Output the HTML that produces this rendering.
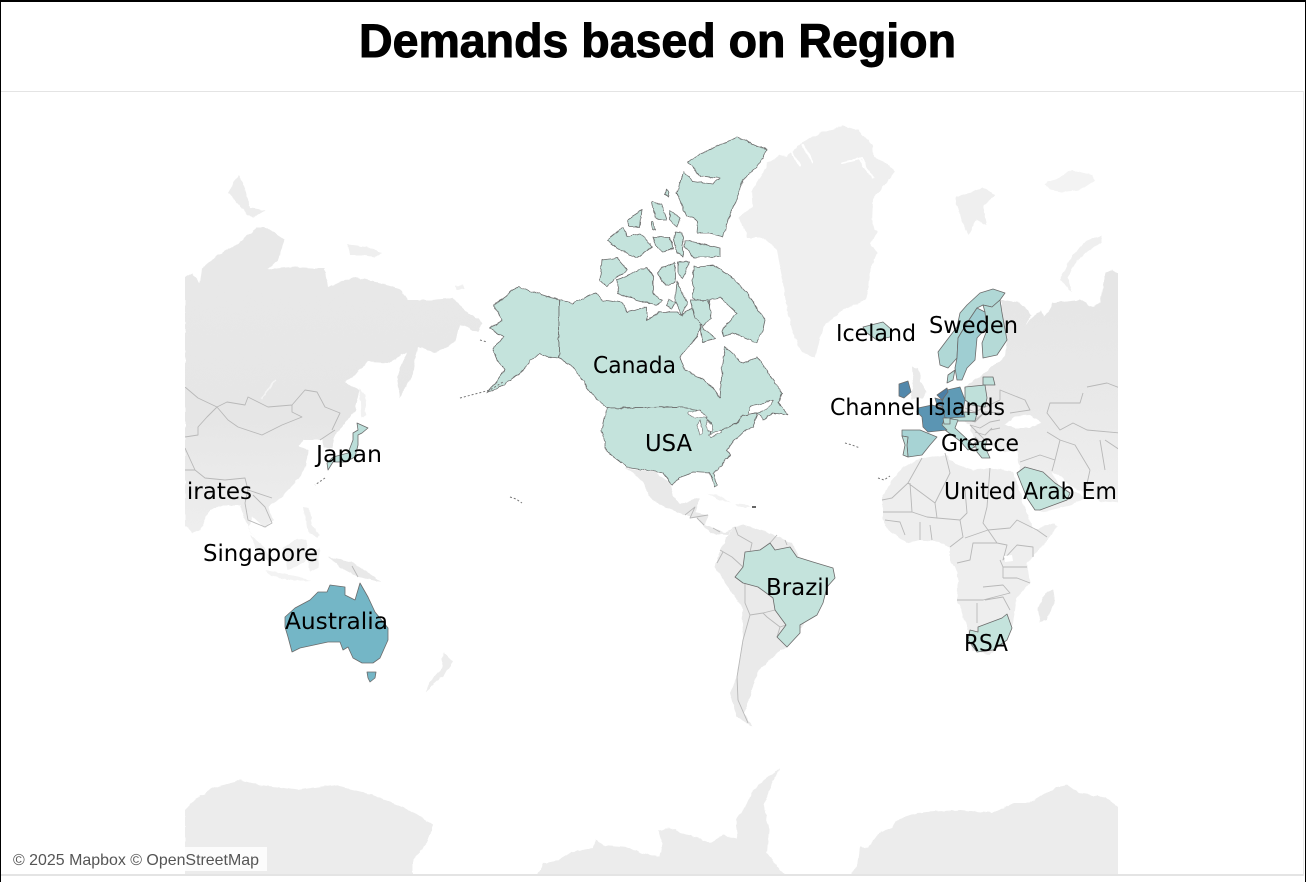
<!DOCTYPE html>
<html lang="en">
<head>
<meta charset="utf-8">
<title>Demands based on Region</title>
<style>
html,body{margin:0;padding:0;background:#fff;width:1306px;height:882px;overflow:hidden}
svg{display:block}
.land{stroke:none}
.border{fill:none;stroke:#b8b8b8;stroke-width:.9;stroke-linejoin:round}
.fiord{fill:none;stroke:#fff;stroke-width:2;stroke-linecap:round}
.country{stroke:#6b6b6b;stroke-width:.8;stroke-linejoin:round;fill:#c6e4dc}
.speck{fill:none;stroke:#777;stroke-width:1;stroke-dasharray:2 2}
.lbl{font-family:"DejaVu Sans","Liberation Sans",sans-serif;font-size:23px;fill:#000}
</style>
</head>
<body>
<svg width="1306" height="882" viewBox="0 0 1306 882">
<defs>
<clipPath id="mapClip"><rect x="185" y="92" width="933" height="783"/></clipPath>
<linearGradient id="gA" gradientUnits="userSpaceOnUse" x1="0" y1="280" x2="0" y2="530"><stop offset="0" stop-color="#e8e8e8"/><stop offset=".55" stop-color="#e6e6e6"/><stop offset="1" stop-color="#eeeeee"/></linearGradient>
<linearGradient id="gE" gradientUnits="userSpaceOnUse" x1="0" y1="300" x2="0" y2="510"><stop offset="0" stop-color="#e6e6e6"/><stop offset=".5" stop-color="#e9e9e9"/><stop offset="1" stop-color="#f0f0f0"/></linearGradient>
<filter id="rough" x="-5%" y="-5%" width="110%" height="110%"><feTurbulence type="fractalNoise" baseFrequency=".14" numOctaves="2" seed="4" result="n"/><feDisplacementMap in="SourceGraphic" in2="n" scale="3.5" xChannelSelector="R" yChannelSelector="G"/></filter>
</defs>

<rect x="0" y="0" width="1306" height="882" fill="#fff"/>

<g clip-path="url(#mapClip)">
  <g filter="url(#rough)">
    <polygon class="land" fill="#efefef" points="767,163 780,155 787,157 802,143 820,133 843,126 858,130 872,145 873,157 890,165 895,172 883,187 873,200 872,223 877,233 870,243 877,253 870,270 868,290 865,300 843,310 823,327 815,358 802,353 792,330 787,310 782,277 777,250 763,238 747,238 743,227 738,217 753,207 752,190 763,173"/>
    <path class="fiord" d="M790,150 L800,165 M803,145 L812,162 M842,163 L862,158 L868,172 M860,160 L873,178"/>
    <polygon class="land" fill="#efefef" points="955,197 963,195 973,192 983,187 995,195 983,205 987,225 977,220 968,235 962,223"/>
    <polygon class="land" fill="#f3f3f3" points="1045,183 1060,178 1072,170 1092,175 1095,180 1080,190 1062,192 1050,190"/>
    <polygon class="land" fill="#efefef" points="1102,235 1083,243 1070,260 1060,280 1072,292 1067,277 1080,257 1102,242"/>
    <polygon class="land" fill="url(#gE)" points="1000,300 1020,303 1032,315 1025,325 1040,310 1045,317 1053,303 1080,300 1093,307 1100,303 1105,273 1112,270 1120,275 1120,503 1100,501 1085,493 1072,487 1063,478 1052,471 1058,485 1068,490 1076,492 1085,498 1072,505 1042,512 1037,510 1027,490 1018,475 1020,465 1018,462 1017,450 1005,452 993,448 990,440 985,445 988,458 975,445 970,425 962,420 955,418 965,405 965,387 975,380 983,375 990,368 1000,360 1005,355 1007,340 1002,313"/>
    <polygon fill="#fff" stroke="none" points="1005,425 1015,416 1030,415 1042,423 1030,428 1015,428"/>
    <polygon class="land" fill="#eaeaea" points="912,366 919,368 921,382 926,392 923,398 911,399 913,385"/>
    <polygon class="land" fill="url(#gA)" points="185,277 192,273 200,283 202,268 215,257 238,243 257,227 265,227 285,240 278,260 268,270 295,267 312,268 325,268 328,287 355,277 378,282 402,290 408,300 432,300 452,298 468,313 483,323 478,332 460,325 455,342 435,353 418,347 415,360 413,373 400,398 397,377 407,352 388,363 368,362 345,383 360,390 355,410 348,420 335,435 332,448 325,448 322,440 315,440 305,440 298,447 308,450 306,467 298,480 278,500 268,507 273,520 265,528 253,517 248,527 257,540 247,525 240,505 225,505 210,510 200,530 192,533 185,525"/>
    <polygon class="land" fill="#ececec" points="228,193 238,175 245,188 250,208 265,210 252,218 237,203"/>
    <polygon class="land" fill="#efefef" points="348,245 367,247 382,253 375,257 362,255 350,255"/>
    <polygon class="land" fill="#f0f0f0" points="455,286 463,285 464,289 456,290"/>
    <polygon class="land" fill="#f1f1f1" points="360,388 365,395 366,415 361,418"/>
    <path class="fiord" d="M275,380 L262,398" style="stroke-width:1.6;stroke:#f4f4f4"/>
    <polygon class="land" fill="#f1f1f1" points="250,535 262,545 275,562 270,564 256,550"/>
    <polygon class="land" fill="#f1f1f1" points="283,548 297,538 307,540 305,562 288,570"/>
    <polygon class="land" fill="#f3f3f3" points="265,570 295,576 312,580 295,581 272,576"/>
    <polygon class="land" fill="#f1f1f1" points="306,553 320,548 318,568 310,572"/>
    <polygon class="land" fill="#f0f0f0" points="303,507 309,508 312,525 320,535 318,538 308,532"/>
    <polygon class="land" fill="#e9e9e9" points="328,557 352,562 382,582 358,577 345,570"/>
    <polygon class="land" fill="#ececec" points="443,652 453,662 442,677 425,692 430,682 442,668"/>
    <polygon class="land" fill="#eeeeee" points="922,458 903,467 890,483 882,498 882,520 888,530 907,543 920,540 940,542 950,547 950,560 958,573 957,600 967,627 972,650 990,655 1012,630 1017,597 1030,583 1027,563 1033,557 1057,527 1055,523 1033,530 1025,508 1017,483 1013,472 990,468 973,470 953,463 947,455"/>
    <polygon class="land" fill="#e9e9e9" points="1053,588 1055,600 1047,620 1040,622 1038,610 1043,597"/>
    <polygon class="land" fill="#eaeaea" points="733,527 743,525 767,532 792,543 800,560 830,580 800,630 787,647 777,653 757,673 750,697 743,713 753,727 737,717 730,693 737,677 743,640 742,607 728,587 715,567 720,550"/>
    <polygon class="land" fill="#e9e9e9" points="625,468 640,470 655,472 670,483 673,495 680,505 690,500 700,498 695,512 708,515 705,525 725,533 733,527 728,535 710,533 697,518 685,515 667,508 652,500 643,483 633,473"/>
    <polygon class="land" fill="#f2f2f2" points="707,494 718,495 731,503 720,500"/>
    <polygon class="land" fill="#f2f2f2" points="736,504 748,505 750,507 738,507"/>
    <polygon class="land" fill="#ececec" points="185,810 197,798 213,788 240,780 260,785 277,787 297,790 333,785 367,793 390,802 410,810 433,825 427,843 413,860 413,880 185,880"/>
    <polygon class="land" fill="#ececec" points="535,880 543,863 558,860 571,852 593,848 595,840 604,845 628,847 641,853 650,855 660,857 662,843 658,830 675,828 680,833 697,837 710,843 723,835 738,838 736,820 745,807 751,793 764,780 780,768 769,790 764,807 769,830 767,853 788,880"/>
    <polygon class="land" fill="#ececec" points="847,880 858,863 860,847 868,848 877,835 892,828 897,820 918,813 927,812 960,810 992,813 1014,803 1029,803 1057,787 1068,785 1079,793 1105,797 1122,810 1122,880"/>
  </g>

  <g>
    <path class="border" d="M185,387 L198,398 217,407 227,402 245,405 248,397 268,407 292,405 305,390 317,392 325,407 340,413 332,430 M217,407 L228,420 238,427 262,435 282,425 302,417 292,412 292,405 M217,407 L207,417 198,427 198,435 185,437 M335,430 L320,440"/>
    <path class="border" d="M185,448 L195,470 205,478 225,480 245,478 248,490 272,498 M245,503 L248,520 265,527 272,523 265,507 253,495 M248,490 L245,503 M185,470 L195,470 M352,566 L358,577"/>
    <path class="border" d="M1087,387 L1107,383 1120,388 M1083,393 L1080,403 1050,403 1047,413 1060,430 1073,423 1087,430 1120,433 M1047,432 L1060,440 1075,445 1090,470 M1060,440 L1055,460 1052,471 M1020,462 L1040,455 1055,460 M1000,400 L1000,390 1025,400 1030,410 1010,413 M1000,400 L985,407 M990,430 L1000,428 M975,420 L985,412 1000,413 M970,425 L985,440 M1090,470 L1085,493 M1100,440 L1105,470 M1105,440 L1120,450"/>
    <path class="border" d="M922,458 L908,483 935,503 M908,483 L892,498 882,500 M912,512 L910,483 M945,453 L950,473 935,503 937,518 927,517 912,512 883,512 M990,468 L987,507 983,523 988,530 M965,490 L967,513 960,520 963,537 950,547 M937,518 L960,520 M988,530 L1010,528 1017,520 1037,530 1047,537 M965,538 L988,530 997,543 973,543 970,560 957,563 M997,543 L1007,545 1003,560 1017,545 1033,547 1033,557 M1003,567 L1027,567 M1003,578 L1017,578 1030,583 M983,587 L1003,585 1010,593 983,600 957,600 M977,603 L977,623 M985,600 L1003,597 1010,610 M1000,560 L1003,567 1003,578 M885,520 L900,522 905,535 M920,522 L920,540 M930,525 L932,540"/>
    <path class="border" d="M735,527 L738,535 752,543 750,552 M720,550 L732,557 743,567 M723,552 L717,563 M745,583 L745,603 750,615 743,640 737,677 738,700 748,723 M750,615 L763,613 775,610 M763,613 L767,617 780,627 786,625 M780,627 L777,637 M770,543 L777,535 M785,540 L787,545"/>
    <path class="border" d="M685,515 L695,507 690,518 708,515 M697,518 L704,525 M713,528 L720,532"/>
    <path class="border" d="M965,408 L975,412 985,407 M960,418 L975,422 985,412 M970,425 L980,428 990,422 1000,420 M975,432 L985,435 992,428 M975,437 L983,445"/>
    <polygon class="land" fill="#fff" points="1004,556 1012,555 1013,561 1005,562"/>
  </g>

  <g filter="url(#rough)">
    <polygon class="country" data-region="USA" points="559,300 559,358 548,357 540,353 530,362 520,373 503,385 487,393 505,370 497,360 493,350 503,337 490,328 503,320 493,305 518,287 537,293"/>
    <polygon class="country" data-region="Canada" points="559,300 573,303 595,293 603,300 623,303 628,312 647,307 647,320 660,312 677,312 682,315 693,307 697,315 702,323 697,337 680,357 685,370 700,378 713,387 720,398 722,370 725,347 743,363 757,357 782,393 778,403 788,415 773,413 763,420 757,413 743,415 737,423 717,433 710,435 712,423 697,410 680,407 607,408 597,400 587,387 573,367 559,358"/>
    <polygon fill="#fff" stroke="#6b6b6b" stroke-width=".7" points="750,407 773,400 767,410 747,415"/>
    <polygon class="country" data-region="USA" points="607,408 680,407 697,410 712,423 710,435 717,433 737,423 743,415 757,413 753,427 743,432 732,443 727,450 730,455 720,467 713,473 718,485 715,487 710,473 693,472 680,477 672,485 663,473 647,470 627,467 607,452 602,430"/>
    <g fill="#fff" stroke="#6b6b6b" stroke-width=".6">
      <polygon points="688,413 700,410 707,417 695,417 688,415"/>
      <polygon points="700,420 703,433 700,435 697,425"/>
      <polygon points="707,420 713,425 712,432 707,430"/>
      <polygon points="708,435 720,430 722,432 711,437"/>
    </g>
    <polygon class="country" data-region="Canada" points="693,267 713,265 727,273 747,293 765,320 763,330 757,343 733,333 723,337 722,330 737,313 720,297 710,300 707,317 693,297"/>
    <polygon class="country" data-region="Canada" points="690,300 708,300 711,318 703,326 695,318"/>
    <polygon class="country" data-region="Canada" points="617,280 647,267 653,277 653,293 662,300 657,305 637,300 627,297 618,293"/>
    <polygon class="country" data-region="Canada" points="602,260 617,258 627,270 617,277 607,287 600,280"/>
    <polygon class="country" data-region="Canada" points="663,267 675,263 675,283 665,285 658,273"/>
    <polygon class="country" data-region="Canada" points="678,262 690,262 683,278 678,273"/>
    <polygon class="country" data-region="Canada" points="677,282 687,303 682,315 675,300"/>
    <polygon class="country" data-region="Canada" points="607,240 623,227 627,237 640,233 652,247 637,258 620,250"/>
    <polygon class="country" data-region="Canada" points="653,237 670,237 673,248 663,253 655,245"/>
    <polygon class="country" data-region="Canada" points="675,232 683,233 683,257 677,253 673,240"/>
    <polygon class="country" data-region="Canada" points="685,240 720,248 720,257 693,257 685,247"/>
    <polygon class="country" data-region="Canada" points="710,150 737,137 767,150 760,163 743,180 737,200 730,213 723,237 710,233 697,233 698,222 693,217 687,217 677,193 683,172 693,181 713,184 720,178 700,176 688,163 700,153"/>
    <polygon class="country" data-region="Canada" points="652,202 662,205 667,220 658,220 653,210"/>
    <polygon class="country" data-region="Canada" points="670,210 680,218 677,227 670,220"/>
    <polygon class="country" data-region="Canada" points="627,220 642,210 640,227 630,227"/>
    <polygon class="country" data-region="Canada" points="700,325 715,338 703,342"/>
    <polygon class="country" data-region="Canada" points="666,190 669,192 668,197 665,194"/>
    <polygon class="country" data-region="Canada" points="669,300 676,302 672,309 666,306"/>
    <polygon class="country" data-region="Canada" points="652,222 654,222 655,230 652,229"/>
  </g>
  <polyline class="speck" points="460,398 475,394 490,390 503,382"/>
  <polyline class="speck" points="480,340 487,342"/>
  <polyline class="speck" points="510,497 516,499 522,503"/>

  <g>
    <polygon class="country" data-region="Norway" points="1005,293 993,289 980,293 967,305 960,313 957,327 947,340 938,352 940,365 948,368 957,358 958,338 967,323 977,308 983,305 992,307 1000,300"/>
    <polygon class="country" data-region="Sweden" points="977,308 985,312 987,327 977,338 975,360 967,368 962,380 957,380 955,368 957,358 958,338 967,323"/>
    <polygon class="country" data-region="Finland" points="983,305 992,307 1000,300 1002,313 1007,340 997,355 983,358 982,343 987,330 985,312"/>
    <polygon class="country" data-region="Denmark" points="948,375 955,370 953,380 947,383"/>
    <polygon class="country" data-region="Iceland" points="863,327 883,322 892,330 890,337 877,340 867,333"/>
    <polygon class="country" data-region="Ireland" points="899,384 908,381 911,392 904,398 899,396"/>
    <polygon class="country" data-region="Lithuania" points="983,377 993,377 995,385 983,385"/>
    <polygon class="country" data-region="Poland" points="965,387 985,385 987,398 985,407 972,405 965,400"/>
    <polygon class="country" data-region="Austria" points="950,418 965,412 977,413 975,421 958,421"/>
    <polygon class="country" data-region="Italy" points="935,425 945,418 958,420 955,428 968,440 975,447 968,450 960,441 945,430"/>
    <polygon class="country" data-region="Greece" points="975,443 987,440 985,447 990,458 982,458 977,452"/>
    <polygon class="country" data-region="Germany" points="947,390 960,387 965,400 963,410 965,417 948,418 943,417 942,402"/>
    <polygon class="country" data-region="Netherlands" points="937,395 947,388 948,392 942,400"/>
    <polygon class="country" data-region="Belgium" points="935,398 942,400 943,407 937,405"/>
    <polygon class="country" data-region="France" points="918,408 932,405 943,408 945,418 942,425 947,430 928,432 923,427 922,417 917,412"/>
    <polygon class="country" data-region="Switzerland" points="943,418 950,418 950,424 944,424"/>
    <polygon class="country" data-region="Spain" points="902,430 920,430 937,437 930,445 922,455 908,457 907,445 908,437 902,436"/>
    <polygon class="country" data-region="Portugal" points="902,436 908,437 907,445 908,457 903,455 905,445"/>
    <polygon class="country" data-region="Saudi Arabia" points="1017,473 1025,467 1043,472 1055,483 1070,493 1067,500 1040,510 1035,510 1027,498"/>
    <polygon class="country" data-region="South Africa" points="978,627 1002,618 1007,614 1012,628 1007,640 993,650 977,652 968,640 970,630 978,632"/>
    <polyline class="speck" points="845,443 852,445 860,448"/>
    <polyline class="speck" points="878,478 884,480 890,476"/>
    <polygon class="land" fill="#666" points="752,506 756,506 756,508 752,508"/>
  </g>

  <polygon class="country" data-region="Brazil" points="745,552 760,550 770,543 775,550 790,547 797,557 813,562 833,568 835,578 827,587 823,603 817,615 800,625 800,633 787,647 777,637 786,625 775,610 773,598 758,587 743,583 735,577 743,567"/>
  <polygon class="country" data-region="Australia" points="285,617 295,608 310,600 318,592 327,592 330,585 345,587 345,595 355,600 360,583 368,597 375,612 388,628 388,640 380,658 373,663 362,663 353,658 348,647 343,650 340,642 328,642 300,648 292,652 288,637 285,627"/>
  <polygon class="country" data-region="Australia" points="367,672 376,672 375,678 370,682 368,678"/>
  <polygon class="country" data-region="Japan" points="357,423 368,428 362,433 358,435 358,445 355,457 345,462 333,462 328,470 327,463 333,457 348,453 353,440 353,433 358,430"/>
  <polyline class="speck" points="325,478 315,485"/>

  <g>
    <text class="lbl" x="593" y="373" textLength="83" lengthAdjust="spacingAndGlyphs">Canada</text>
    <text class="lbl" x="645" y="451" textLength="47" lengthAdjust="spacingAndGlyphs">USA</text>
    <text class="lbl" x="316" y="462" textLength="66" lengthAdjust="spacingAndGlyphs">Japan</text>
    <text class="lbl" x="836" y="341" textLength="80" lengthAdjust="spacingAndGlyphs">Iceland</text>
    <text class="lbl" x="929" y="333" textLength="89" lengthAdjust="spacingAndGlyphs">Sweden</text>
    <text class="lbl" x="830" y="415" textLength="175" lengthAdjust="spacingAndGlyphs">Channel Islands</text>
    <text class="lbl" x="941" y="451" textLength="78" lengthAdjust="spacingAndGlyphs">Greece</text>
    <text class="lbl" x="944" y="499" textLength="235" lengthAdjust="spacingAndGlyphs">United Arab Emirates</text>
    <text class="lbl" x="252" y="499" text-anchor="end">United Arab Emirates</text>
    <text class="lbl" x="203" y="561" textLength="115" lengthAdjust="spacingAndGlyphs">Singapore</text>
    <text class="lbl" x="285" y="629" textLength="103" lengthAdjust="spacingAndGlyphs">Australia</text>
    <text class="lbl" x="766" y="595" textLength="64" lengthAdjust="spacingAndGlyphs">Brazil</text>
    <text class="lbl" x="964" y="651" textLength="44" lengthAdjust="spacingAndGlyphs">RSA</text>
  </g>
</g>

<rect x="1" y="91" width="1303" height="1" fill="#e4e4e4"/>
<rect x="1" y="874" width="1303" height="2" fill="#e4e4e4"/>
<rect x="1303" y="91" width="1" height="785" fill="#e8e8e8"/>
<rect x="0" y="0" width="1306" height="2" fill="#000"/>
<rect x="0" y="0" width="1" height="882" fill="#000"/>
<rect x="1305" y="0" width="1" height="882" fill="#000"/>

<text x="359" y="57" textLength="597" lengthAdjust="spacingAndGlyphs" font-family="'Liberation Sans',sans-serif" font-weight="700" font-size="47" stroke="#000" stroke-width="1" fill="#000">Demands based on Region</text>

<rect x="7" y="847" width="260" height="24" fill="#fff" fill-opacity=".85"/>
<text x="13" y="865" textLength="246" lengthAdjust="spacingAndGlyphs" font-family="'Liberation Sans',sans-serif" font-size="16" fill="#555">© 2025 Mapbox © OpenStreetMap</text>
</svg>

<script>
const regions = ["Canada","USA","Brazil","Japan","Iceland","Norway","Sweden","Finland","Denmark","Ireland","Lithuania","Poland","Austria","Italy","Greece","Germany","Netherlands","Belgium","France","Switzerland","Spain","Portugal","Saudi Arabia","South Africa","Australia"];
const demandValues = [3,3,3,8,6,15,25,12,12,92,6,6,10,10,5,75,100,88,80,9,20,8,3,3,50];
const colorDomain = [0,50,100];
const colorRange = [[201,230,221],[116,182,198],[75,127,166]];

function colorScale(v){
  const i = v <= colorDomain[1] ? 0 : 1;
  const t = Math.max(0, Math.min(1, (v - colorDomain[i]) / (colorDomain[i + 1] - colorDomain[i])));
  const c = colorRange[i].map((a, k) => Math.round(a + (colorRange[i + 1][k] - a) * t));
  return "rgb(" + c.join(",") + ")";
}

regions.forEach((region, i) => {
  document.querySelectorAll('[data-region="' + region + '"]').forEach(el => {
    el.setAttribute("fill", colorScale(demandValues[i]));
    el.style.fill = colorScale(demandValues[i]);
  });
});
</script>
</body>
</html>
